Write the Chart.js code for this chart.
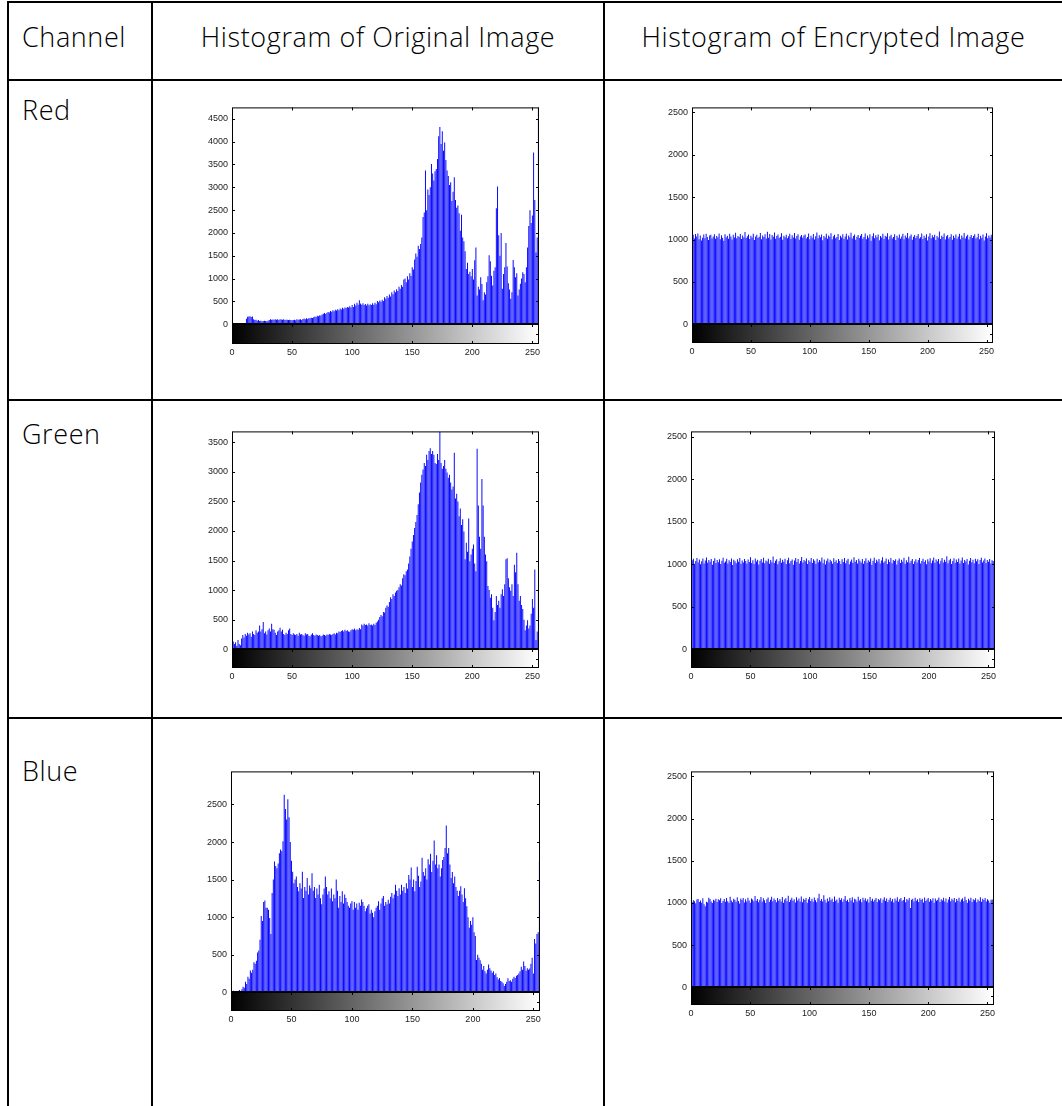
<!DOCTYPE html>
<html>
<head>
<meta charset="utf-8">
<script src="https://cdn.jsdelivr.net/npm/chart.js@4.4.0/dist/chart.umd.min.js"></script>
<style>
  html, body { margin: 0; padding: 0; background: #fff; }
  body { width: 1062px; height: 1106px; position: relative; overflow: hidden; font-family: "Open Sans", "Noto Sans", sans-serif; }
  .rule { position: absolute; background: #000; }
  .cell-text { position: absolute; font-size: 27px; font-weight: 300; line-height: 27px; letter-spacing: 0.6px; color: #000; white-space: nowrap; }
  .center { text-align: center; }
  canvas { position: absolute; }
</style>
</head>
<body>

<!-- table rules -->
<div class="rule" style="left:7px; top:1px; width:1055px; height:2px;"></div>
<div class="rule" style="left:7px; top:79px; width:1055px; height:2px;"></div>
<div class="rule" style="left:7px; top:399px; width:1055px; height:2px;"></div>
<div class="rule" style="left:7px; top:717px; width:1055px; height:2px;"></div>
<div class="rule" style="left:7px; top:1px; width:2px; height:1105px;"></div>
<div class="rule" style="left:151px; top:1px; width:2px; height:1105px;"></div>
<div class="rule" style="left:603px; top:1px; width:2px; height:1105px;"></div>

<!-- header and row labels -->
<div class="cell-text" style="left:22px; top:23px;">Channel</div>
<div class="cell-text center" style="left:153px; width:450px; top:23px;">Histogram of Original Image</div>
<div class="cell-text center" style="left:605px; width:457px; top:23px;">Histogram of Encrypted Image</div>
<div class="cell-text" style="left:22px; top:96px;">Red</div>
<div class="cell-text" style="left:22px; top:420px;">Green</div>
<div class="cell-text" style="left:22px; top:757px;">Blue</div>

<script>
// Intensity levels of an 8-bit channel
const levels = Array.from({ length: 256 }, (_, i) => i);
const xTickLabels = [0, 50, 100, 150, 200, 250];

// Y tick labels per panel
const redOriginalYTicks   = [0, 500, 1000, 1500, 2000, 2500, 3000, 3500, 4000, 4500];
const greenOriginalYTicks = [0, 500, 1000, 1500, 2000, 2500, 3000, 3500];
const blueOriginalYTicks  = [0, 500, 1000, 1500, 2000, 2500];
const encryptedYTicks     = [0, 500, 1000, 1500, 2000, 2500];

// Pixel counts per level, original image
const redOriginal = [
  0,0,0,0,0,0,0,0,4,20,25,30,120,165,170,175,
  160,170,110,95,100,80,95,70,75,65,70,75,72,68,80,95,
  110,100,105,98,110,102,108,96,112,104,98,110,95,102,98,92,
  100,95,88,96,102,90,112,98,105,110,96,118,125,108,132,118,
  140,130,145,138,155,170,160,185,175,200,190,215,230,245,225,255,
  270,260,290,275,305,285,320,300,330,310,345,325,360,340,370,355,
  380,365,395,370,420,380,450,410,470,430,525,455,430,460,420,445,
  410,450,415,440,425,460,430,470,440,510,480,520,495,540,510,590,
  560,620,580,650,610,700,660,740,700,770,730,820,780,860,820,980,
  1000,920,1050,980,1120,1060,1250,1200,1420,1550,1480,1720,1650,1760,1900,2350,
  2450,3370,2500,2950,2830,3000,3510,3300,3150,3350,3400,3620,4120,4320,3950,4230,
  3800,3980,3600,3370,3250,3050,3110,2700,2900,3220,2720,2550,2600,2430,2050,2400,
  1900,1820,1600,1210,1350,1100,1150,1050,1210,980,1400,1680,630,820,760,1030,
  880,525,700,650,920,1050,1510,1380,1065,850,1170,1250,2540,3020,1950,1500,
  2000,780,1100,1250,1780,1265,900,760,560,700,1410,1250,1030,1120,630,760,
  885,1000,1140,1100,920,1250,1680,2150,2500,2220,2380,3760,2720,1570,1900,5200
];

const greenOriginal = [
  4200,130,90,120,60,155,90,70,180,240,200,260,230,280,250,270,
  210,300,260,240,320,280,300,400,300,340,460,270,300,250,320,350,
  300,430,340,330,280,240,300,320,365,300,330,260,240,280,260,320,
  350,260,240,270,250,240,260,230,280,250,260,240,230,270,250,260,
  230,220,250,270,240,230,250,240,230,240,220,230,250,240,230,250,
  240,260,250,240,260,270,250,280,270,300,290,310,320,300,330,310,
  320,300,295,320,340,330,350,320,340,330,360,340,420,400,430,410,
  420,400,440,410,420,400,430,410,450,470,500,545,580,560,630,620,
  700,740,720,800,880,850,930,900,960,990,1000,1050,1100,1080,1200,1270,
  1250,1320,1350,1450,1570,1700,1820,1930,2050,2150,2270,2450,2650,2820,2950,3040,
  3150,3100,3290,3200,3350,3400,3300,3350,3290,3150,3130,3300,3200,3680,3150,3050,
  3100,3200,3050,2990,2900,2950,2820,2700,2750,3320,2550,2630,2500,2250,2380,2100,
  2200,1990,1520,1800,1650,2210,1490,1600,1700,1770,1450,1320,3390,2430,1900,1700,
  2880,2430,1900,1600,1490,1070,1000,870,930,700,490,630,900,750,820,700,
  930,1015,900,1100,1520,1540,1200,1050,990,1100,900,1430,1300,1630,1100,820,
  900,750,680,500,320,400,490,350,400,600,850,700,1350,155,300,1015
];

const blueOriginal = [
  52,10,20,5,15,10,20,30,15,40,75,60,140,110,205,180,
  290,260,300,400,380,420,530,555,700,1015,950,1200,1220,1125,1125,1100,
  990,775,1320,1500,1740,1680,1650,1715,1850,1900,1880,2010,2630,2440,2300,2570,
  2330,2000,1750,1605,1450,1500,1540,1400,1345,1450,1380,1605,1255,1400,1350,1520,
  1300,1420,1385,1585,1350,1400,1255,1380,1300,1430,1250,1170,1300,1380,1540,1400,
  1300,1345,1250,1380,1210,1300,1250,1500,1350,1125,1280,1200,1345,1180,1300,1255,
  1200,1150,1125,1180,1210,1100,1200,1125,1180,1100,1190,1150,1235,1200,1150,1080,
  1120,1150,1170,1050,1100,1060,1000,1080,1125,1150,1210,1100,1180,1250,1280,1150,
  1200,1170,1230,1180,1270,1320,1250,1300,1430,1350,1280,1385,1300,1430,1350,1400,
  1320,1450,1380,1560,1500,1660,1400,1500,1345,1480,1670,1550,1400,1475,1790,1600,
  1550,1650,1500,1770,1700,1845,1600,1750,2020,1700,1825,1650,1700,1540,1650,1760,
  1800,1920,2220,1850,1920,1700,1520,1600,1450,1540,1400,1350,1280,1350,1410,1300,
  1200,1385,1250,1145,1000,860,950,900,1000,800,750,430,500,460,425,380,
  300,350,280,250,300,370,320,290,260,280,230,250,200,170,190,150,
  140,120,85,110,140,185,150,160,140,180,205,190,220,230,250,280,
  340,300,410,350,285,320,300,315,380,460,250,710,650,775,800,1745
];

// Pixel counts per level, encrypted image
const redEncrypted = [
  1042,1058,1012,1067,1035,1071,1003,1047,990,1022,1061,1016,1069,1031,996,1049,
  1057,1013,1036,1064,1009,1042,1028,1072,1005,1051,1020,987,1062,1026,1045,1010,
  1068,1037,1000,1056,1023,1080,1014,1043,1031,1065,1006,1049,1025,1088,1019,1038,
  1060,1008,1046,1024,1070,994,1037,1058,1017,1033,1077,1004,1048,1029,1063,1012,
  1092,1021,1066,1002,1053,1032,1084,1010,1041,1060,1018,1034,1073,999,1044,1027,
  1057,1015,1038,1068,1007,1050,1024,1076,1013,1042,1063,997,1036,1054,1020,1047,
  1059,1011,1030,1071,1005,1045,1022,1066,1001,1039,1082,1016,1052,1028,1061,992,
  1043,1025,1069,1009,1048,1033,1074,1003,1040,1057,1014,1031,1065,995,1046,1023,
  1062,1008,1037,1070,1002,1049,1026,1079,1012,1041,1060,998,1034,1055,1019,1044,
  1066,1010,1029,1072,1004,1047,1021,1063,985,1038,1075,1015,1051,1027,1059,993,
  1042,1024,1068,1007,1046,1032,1073,1001,1039,1056,1013,1030,1064,996,1045,1022,
  1061,1009,1036,1069,1003,1048,1025,1078,1011,1040,1059,999,1033,1054,1018,1043,
  1065,1012,1028,1071,1006,1046,1020,1062,988,1037,1074,1014,1050,1026,1058,994,
  1041,1023,1096,1008,1045,1031,1072,1002,1038,1055,1012,1029,1063,997,1044,1021,
  1060,1010,1035,1068,1004,1047,1024,1077,1012,1039,1058,1000,1032,1053,1017,1042,
  1064,1013,1027,1070,1005,1045,1019,1061,989,1036,1073,1015,1049,1025,1057,1018
];

const greenEncrypted = [
  1012,1047,1063,1005,1038,1071,1020,1054,998,1033,1066,1009,1042,1079,1016,1050,
  1027,1061,994,1036,1070,1013,1048,1022,1057,1001,1040,1075,1018,1031,1064,1007,
  1045,1024,1068,990,1052,1035,1011,1059,1029,1073,1004,1043,1019,1062,1037,1008,
  1056,1026,1081,1014,1046,1002,1067,1032,1051,996,1039,1060,1021,1074,1010,1044,
  1030,1065,1006,1049,1023,1090,1015,1041,1058,1000,1034,1069,1017,1053,1028,1063,
  1003,1047,1076,1011,1036,1055,992,1042,1071,1025,1060,1009,1038,1084,1019,1050,
  1033,1066,1001,1045,1027,1072,1013,1057,1039,1004,1064,1022,1048,1031,1078,1012,
  1055,997,1040,1067,1020,1051,1035,1006,1069,1026,1046,1015,1061,1037,1002,1058,
  1024,1073,1010,1043,1065,999,1032,1054,1018,1082,1029,1049,1008,1063,1041,1021,
  1060,1005,1036,1070,1016,1047,1027,1066,993,1039,1075,1013,1052,1030,1062,1007,
  1044,1080,1019,1034,1068,1003,1056,1025,1071,1011,1048,1038,1059,995,1042,1067,
  1014,1053,1029,1076,1006,1045,1022,1088,1017,1040,1062,1001,1035,1057,1020,1050,
  1072,1009,1037,1064,1024,1047,998,1058,1031,1069,1012,1043,1078,1016,1054,1033,
  1061,1004,1041,1073,1020,1051,1028,1092,1010,1046,1063,1002,1036,1070,1018,1055,
  1026,1067,1008,1044,1079,1015,1049,1032,1060,997,1039,1071,1022,1053,1011,1065,
  1034,1057,1003,1048,1074,1019,1042,1066,1013,1050,1029,1062,1007,1045,1038,1005
];

const blueEncrypted = [
  1021,1008,1033,1019,995,1042,1047,1012,1029,1003,1055,985,962,1014,1005,1063,
  1048,1017,1000,1039,1026,1051,1011,1044,1033,1057,999,1024,1048,1015,1060,1020,
  1002,1074,1028,1009,1050,1037,1013,1066,1023,994,1052,1035,1058,1006,1045,1017,
  1062,1028,1003,1054,1040,1019,1081,1025,1048,1007,1037,1069,1014,1056,1031,1000,
  1044,1064,1010,1039,1073,1021,1052,1034,1008,1060,1027,1047,1016,1071,1002,1041,
  1055,1020,1085,1011,1038,1062,1026,1045,1004,1067,1030,1053,1018,1076,1009,1049,
  1036,1059,1001,1043,1071,1023,1050,1013,1064,1032,1008,1057,1110,1025,1046,1017,
  1092,1038,1005,1052,1019,1068,1031,1049,1011,1077,1027,1042,1003,1061,1035,1056,
  1014,1045,1083,1022,1039,1012,1058,1030,1066,1006,1051,1040,1018,1074,1028,1047,
  1009,1063,1033,1055,1021,1043,1004,1069,1027,1050,1016,1037,1060,1012,1046,1031,
  1057,1001,1041,1066,1024,1052,1010,1038,1062,1020,1048,1005,1054,1029,1067,1015,
  1043,1058,1022,1036,1070,1008,1047,1032,1060,941,1039,1051,1018,1063,1027,1044,
  1012,1056,1034,1049,1006,1065,1023,1040,1059,1014,1046,1030,1057,1002,1052,1025,
  1038,1064,1011,1045,1029,1061,1017,1053,1004,1042,1069,1021,1050,1033,1058,1009,
  1047,1026,1063,1015,1040,1055,1019,1072,1036,1003,1049,1028,1062,1012,1044,1031,
  1057,1008,1042,1024,1066,1014,1050,1035,1060,1018,1045,1029,1003,1037,1041,980
];

// Panel placement on the page: L/R = x-axis ends, T = top of histogram,
// Z = zero line, B = bottom of the gray-level bar
const panels = [
  { counts: redOriginal,    yTicks: redOriginalYTicks,   yMax: 4750, L: 232, R: 539, T: 104, Z: 324, B: 344 },
  { counts: redEncrypted,   yTicks: encryptedYTicks,     yMax: 2560, L: 692, R: 993, T: 104, Z: 324, B: 343 },
  { counts: greenOriginal,  yTicks: greenOriginalYTicks, yMax: 3683, L: 232, R: 539, T: 428, Z: 649, B: 668 },
  { counts: greenEncrypted, yTicks: encryptedYTicks,     yMax: 2560, L: 691, R: 995, T: 428, Z: 649, B: 668 },
  { counts: blueOriginal,   yTicks: blueOriginalYTicks,  yMax: 2940, L: 231, R: 540, T: 768, Z: 992, B: 1011 },
  { counts: blueEncrypted,  yTicks: encryptedYTicks,     yMax: 2560, L: 691, R: 994, T: 768, Z: 987, B: 1005 }
];

// Box, inward ticks and gray-level bar, drawn over the bars
const histFrame = {
  id: 'histFrame',
  afterDatasetsDraw(chart) {
    const { ctx, chartArea: { left, right, top, bottom }, scales: { x, y } } = chart;
    const z = Math.round(y.getPixelForValue(0));
    ctx.save();
    const grad = ctx.createLinearGradient(x.getPixelForValue(0), 0, x.getPixelForValue(255), 0);
    grad.addColorStop(0, '#000000');
    grad.addColorStop(1, '#ffffff');
    ctx.fillStyle = grad;
    ctx.fillRect(left, z, right - left, bottom - z);

    ctx.strokeStyle = '#000';
    ctx.lineWidth = 1;
    ctx.strokeRect(left + 0.5, top + 0.5, right - left - 1, z - top);
    ctx.strokeRect(left + 0.5, z + 0.5, right - left - 1, bottom - z - 1);
    ctx.fillStyle = '#000';
    ctx.fillRect(left, z - 1, right - left, 2);

    const tl = 3;
    ctx.beginPath();
    for (const t of y.ticks) {
      if (t.value === 0) continue;
      const py = Math.round(y.getPixelForValue(t.value)) + 0.5;
      ctx.moveTo(left, py); ctx.lineTo(left + tl, py);
      ctx.moveTo(right, py); ctx.lineTo(right - tl, py);
    }
    for (const t of x.ticks) {
      if (t.value === 0) continue;
      const px = Math.round(x.getPixelForValue(t.value)) + 0.5;
      ctx.moveTo(px, top); ctx.lineTo(px, top + tl);
      ctx.moveTo(px, z); ctx.lineTo(px, z + tl);
      ctx.moveTo(px, bottom); ctx.lineTo(px, bottom - tl);
    }
    const mid = Math.round((z + bottom) / 2) + 0.5;
    ctx.moveTo(right, mid); ctx.lineTo(right - tl, mid);
    ctx.stroke();
    ctx.restore();
  }
};

const tickFont = { family: '"Liberation Sans", Arial, sans-serif', size: 9 };

function drawPanel(p) {
  const padL = 40, padT = 6, padR = 14, padB = 20;
  const W = (p.R - p.L) + padL + padR;
  const H = (p.B - p.T) + padT + padB;
  const cv = document.createElement('canvas');
  cv.width = W; cv.height = H;
  cv.style.width = W + 'px'; cv.style.height = H + 'px';
  cv.style.left = (p.L - padL) + 'px';
  cv.style.top = (p.T - padT) + 'px';
  document.body.appendChild(cv);

  const yMin = -(p.B - p.Z) / (p.Z - p.T) * p.yMax;

  new Chart(cv, {
    type: 'bar',
    data: {
      datasets: [{
        data: p.counts.map((v, i) => ({ x: levels[i], y: v })),
        backgroundColor: '#0000ff',
        borderWidth: 0,
        barPercentage: 1,
        categoryPercentage: 0.8
      }]
    },
    options: {
      responsive: false,
      animation: false,
      devicePixelRatio: 1,
      layout: { padding: { left: 0, top: padT, right: padR, bottom: 0 } },
      plugins: { legend: { display: false }, tooltip: { enabled: false } },
      scales: {
        x: {
          type: 'linear', min: 0, max: 255.5, offset: false,
          grid: { display: false, drawTicks: false },
          border: { display: false },
          afterBuildTicks: s => { s.ticks = xTickLabels.map(v => ({ value: v })); },
          afterFit: s => { s.height = padB; },
          ticks: { padding: 3, font: tickFont, color: '#222', maxRotation: 0, autoSkip: false, callback: v => String(v) }
        },
        y: {
          type: 'linear', min: yMin, max: p.yMax,
          grid: { display: false, drawTicks: false },
          border: { display: false },
          afterBuildTicks: s => { s.ticks = p.yTicks.map(v => ({ value: v })); },
          afterFit: s => { s.width = padL; },
          ticks: { padding: 4, font: tickFont, color: '#222', autoSkip: false, callback: v => String(v) }
        }
      }
    },
    plugins: [histFrame]
  });
}

panels.forEach(drawPanel);
</script>
</body>
</html>
